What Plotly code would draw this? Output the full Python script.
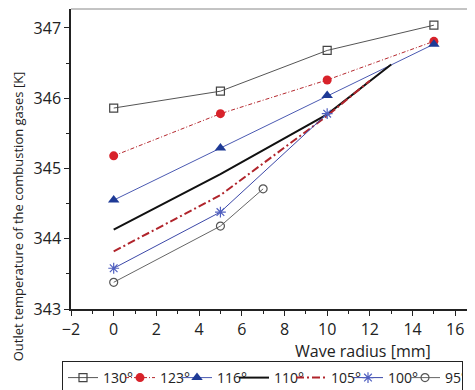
import plotly.graph_objects as go

# ---- data ----
names = ["130°", "123°", "116°", "110°", "105°", "100°", "95°"]
x_130 = [0, 5, 10, 15]
y_130 = [345.86, 346.10, 346.68, 347.04]
x_123 = [0, 5, 10, 15]
y_123 = [345.18, 345.78, 346.26, 346.81]
x_116 = [0, 5, 10, 15]
y_116 = [344.55, 345.29, 346.04, 346.77]
x_110 = [0, 5, 10, 13]
y_110 = [344.13, 344.92, 345.77, 346.48]
x_105 = [0, 5, 10, 12]
y_105 = [343.82, 344.62, 345.75, 346.25]
x_100 = [0, 5, 10]
y_100 = [343.58, 344.38, 345.78]
x_95 = [0, 5, 7]
y_95 = [343.38, 344.18, 344.71]

FONT = "Open Sans"
LEG_FONT = "Liberation Sans Narrow, Arial Narrow, Open Sans"

fig = go.Figure()
fig.add_trace(go.Scatter(x=x_130, y=y_130, name=names[0], mode="lines+markers",
                         line=dict(color="#555555", width=1),
                         marker=dict(symbol="square-open", size=8, color="#444444", line=dict(width=1.2))))
fig.add_trace(go.Scatter(x=x_123, y=y_123, name=names[1], mode="lines+markers",
                         line=dict(color="#b5282e", width=1, dash="4px,2px,1px,2px"),
                         marker=dict(symbol="circle", size=9, color="#d8222a")))
fig.add_trace(go.Scatter(x=x_116, y=y_116, name=names[2], mode="lines+markers",
                         line=dict(color="#4b5ab2", width=1),
                         marker=dict(symbol="triangle-up", size=10, color="#1e3a96")))
fig.add_trace(go.Scatter(x=x_110, y=y_110, name=names[3], mode="lines",
                         line=dict(color="#111111", width=2)))
fig.add_trace(go.Scatter(x=x_105, y=y_105, name=names[4], mode="lines",
                         line=dict(color="#b0242b", width=2, dash="8px,3px,2px,3px")))
fig.add_trace(go.Scatter(x=x_100, y=y_100, name=names[5], mode="lines+markers",
                         line=dict(color="#3c48a8", width=1),
                         marker=dict(symbol="asterisk-open", size=9, color="#5060c0", line=dict(width=1.2, color="#5060c0"))))
fig.add_trace(go.Scatter(x=x_95, y=y_95, name=names[6], mode="lines+markers",
                         line=dict(color="#666666", width=1),
                         marker=dict(symbol="circle-open", size=8, color="#555555", line=dict(width=1.2))))

fig.update_layout(
    width=475, height=390,
    margin=dict(l=63, r=0, t=1, b=89),
    paper_bgcolor="white", plot_bgcolor="white",
    font=dict(family=FONT, size=14, color="#222222"),
    showlegend=True,
    legend=dict(orientation="h", xref="container", yref="container",
                x=54 / 475, xanchor="left", y=3 / 390, yanchor="bottom",
                bordercolor="#222222", borderwidth=1, bgcolor="white",
                font=dict(family=LEG_FONT, size=14, color="#222222"),
                itemwidth=30, entrywidth=12, entrywidthmode="pixels",
                tracegroupgap=0, itemsizing="trace"),
    xaxis=dict(range=[-2, 17.3], tickmode="linear", tick0=-2, dtick=2,
               showgrid=False, zeroline=False, showline=True, linecolor="#222222", linewidth=1.5,
               ticks="outside", ticklen=5, tickwidth=1.2, tickcolor="#222222",
               tickfont=dict(family=FONT, size=16, color="#222222"),
               minor=dict(dtick=1, tick0=-1, ticks="outside", ticklen=3, tickwidth=1.2, tickcolor="#222222", showgrid=False)),
    yaxis=dict(range=[343, 347.27], tickmode="linear", tick0=343, dtick=1,
               showgrid=False, zeroline=False, showline=True, linecolor="#222222", linewidth=1.5,
               ticks="outside", ticklen=5, tickwidth=1.2, tickcolor="#222222",
               tickfont=dict(family=FONT, size=16, color="#222222"),
               minor=dict(dtick=0.5, ticks="outside", ticklen=3, tickwidth=1.2, tickcolor="#222222", showgrid=False)),
    shapes=[dict(type="line", xref="paper", yref="paper", x0=0, x1=1, y0=1, y1=1,
                 line=dict(color="#888888", width=1))],
    annotations=[
        dict(text="Wave radius [mm]", xref="paper", yref="paper", x=0.709, y=-0.14,
             xanchor="center", yanchor="middle", showarrow=False,
             font=dict(family=FONT, size=16, color="#222222")),
        dict(text="Outlet temperature of the combustion gases [K]", xref="paper", yref="paper",
             x=-0.128, y=0.31, xanchor="center", yanchor="middle", textangle=-90, showarrow=False,
             font=dict(family=FONT, size=13, color="#222222")),
    ],
)

fig.write_html("out.html")
